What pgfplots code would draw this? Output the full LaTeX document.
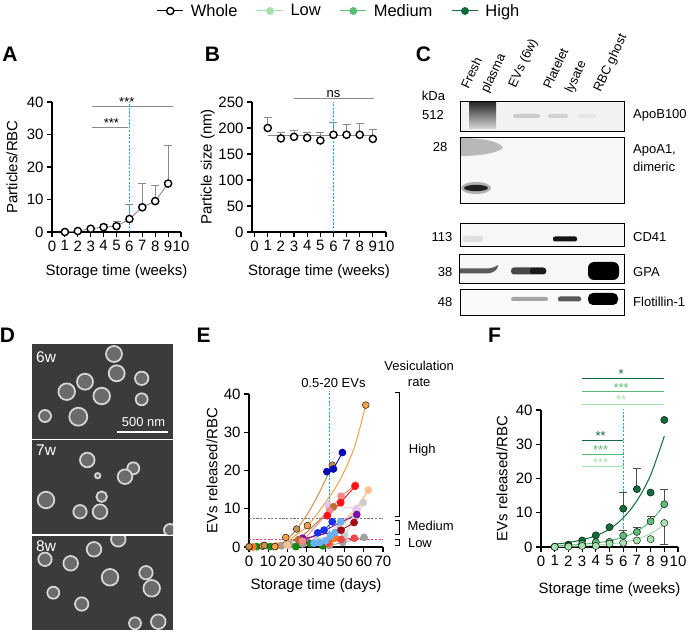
\documentclass[border=0pt]{standalone}
\usepackage{fontspec}
\setmainfont{Liberation Sans}
\usepackage{pgfplots}
\pgfplotsset{compat=1.18}

\definecolor{tealv}{RGB}{20,180,200}
\definecolor{sig}{HTML}{8A8A8A}
\definecolor{lowg}{HTML}{A6E0AE}
\definecolor{medg}{HTML}{5CBB77}
\definecolor{highg}{HTML}{116B3C}
\definecolor{eorange}{HTML}{F5A04A}
\definecolor{etan}{HTML}{C8914E}
\definecolor{edblue}{HTML}{0A0AB5}
\definecolor{eblue}{HTML}{1A2EEE}
\definecolor{ered}{HTML}{FF1010}
\definecolor{esalmon}{HTML}{F08A8A}
\definecolor{ebrown}{HTML}{B8702E}
\definecolor{epurple}{HTML}{7B0FA5}
\definecolor{edred}{HTML}{A30A14}
\definecolor{elblue}{HTML}{6AB0F5}
\definecolor{egray}{HTML}{A0A0A0}
\definecolor{elgray}{HTML}{CDCDCD}
\definecolor{egreen}{HTML}{138A13}
\definecolor{edorange}{HTML}{F47C20}
\definecolor{epeach}{HTML}{F9C290}
\definecolor{elav}{HTML}{E6C6F2}
\definecolor{eredtwo}{HTML}{F04848}
\definecolor{epink}{RGB}{240,60,150}
\definecolor{edash}{RGB}{110,110,140}

\pgfplotsset{
  prism/.style={
    scale only axis, anchor=south west,
    axis lines=left, axis line style={-, line width=1.2pt, black},
    tick align=outside, major tick length=5pt,
    tick style={line width=1.1pt, black},
    tick label style={font=\fontsize{15}{15}\selectfont},
    label style={font=\fontsize{15}{15}\selectfont},
    /pgf/number format/assume math mode=true,
    clip=false,
  },
  es/.style={color=#1, line width=0.9pt, mark=*, mark size=3.4pt, mark options={draw=none, fill=#1}},
  tline/.style={draw=tealv, line width=1.3pt, dash pattern=on 2.2pt off 1.5pt},
}

\begin{document}
\begin{tikzpicture}[x=1pt,y=1pt]
\useasboundingbox (0,0) rectangle (692,632);

% ---------------- legend (canvas axis) ----------------
\begin{axis}[at={(0pt,0pt)}, anchor=south west, scale only axis,
  width=692pt, height=632pt, hide axis,
  xmin=0, xmax=692, ymin=0, ymax=632,
  legend columns=4,
  legend style={draw=none, fill=none, at={(0.49,0.9826)}, anchor=center,
    font=\fontsize{16.5}{18}\selectfont,
    /tikz/every odd column/.append style={column sep=5pt},
    /tikz/every even column/.append style={column sep=17pt}},
  legend image code/.code={\draw[mark repeat=2,mark phase=2] plot coordinates {(0pt,0pt) (13pt,0pt) (26pt,0pt)};}]
\addlegendimage{black, line width=1pt, mark=*, mark size=3.6pt, mark options={draw=black, fill=white, line width=1.4pt}}
\addlegendentry{Whole}
\addlegendimage{lowg, line width=1pt, mark=*, mark size=3.4pt, mark options={draw=none, fill=lowg}}
\addlegendentry{Low}
\addlegendimage{medg, line width=1pt, mark=*, mark size=3.4pt, mark options={draw=none, fill=medg}}
\addlegendentry{Medium}
\addlegendimage{highg, line width=1pt, mark=*, mark size=3.4pt, mark options={draw=none, fill=highg}}
\addlegendentry{High}
\end{axis}

% ---------------- panel letters ----------------
\begin{scope}[every node/.style={font=\fontsize{21}{21}\selectfont\bfseries, inner sep=0pt}]
\node at (10,577.5) {A};
\node at (212.5,577.5) {B};
\node at (423.5,577.5) {C};
\node at (7.5,296.5) {D};
\node at (203.5,296.5) {E};
\node at (494.5,296.5) {F};
\end{scope}

% ---------------- panel A ----------------
\begin{axis}[prism, at={(52pt,400pt)}, width=129pt, height=130pt,
  xmin=0, xmax=10, ymin=0, ymax=40,
  xtick={0,...,10}, ytick={0,10,...,40},
  xlabel={Storage time (weeks)}, ylabel={Particles/RBC},
  ylabel style={at={(axis description cs:-0.31,0.5)}, anchor=center},
  xlabel style={at={(axis description cs:0.5,-0.308)}, anchor=center}]
\addplot[sig, line width=1.2pt] coordinates {(3.1,38.6) (9.36,38.6)};
\addplot[sig, line width=1.2pt] coordinates {(3.1,32.1) (5.93,32.1)};
\node[anchor=south, inner sep=1pt, font=\fontsize{13}{13}\selectfont] at (axis cs:5.8,38.2) {***};
\node[anchor=south, inner sep=1pt, font=\fontsize{13}{13}\selectfont] at (axis cs:4.6,31.7) {***};
\addplot[sig, line width=0.9pt, mark=none,
  error bars/.cd, y dir=plus, y explicit,
  error bar style={sig, line width=0.9pt},
  error mark options={rotate=90, mark size=4pt, sig, line width=0.9pt}]
  coordinates {(1,0.0) +- (0,0) (2,0.3) +- (0,0) (3,1.0) +- (0,0) (4,1.5) +- (0,0.8)
    (5,1.8) +- (0,1.5) (6,4.0) +- (0,4.4) (7,7.6) +- (0,7.3) (8,9.5) +- (0,4.9) (9,14.9) +- (0,11.8)};
\addplot[tline] coordinates {(6,0) (6,40)};
\addplot[only marks, mark=*, mark size=3.6pt, mark options={draw=black, fill=white, line width=1.4pt}]
  coordinates {(1,0.0) (2,0.3) (3,1.0) (4,1.5) (5,1.8) (6,4.0) (7,7.6) (8,9.5) (9,14.9)};
\end{axis}

% ---------------- panel B ----------------
\begin{axis}[prism, at={(252pt,400pt)}, width=134pt, height=130pt,
  xmin=-0.2, xmax=10, ymin=0, ymax=250,
  xtick={0,...,10}, ytick={0,50,...,250},
  xlabel={Storage time (weeks)}, ylabel={Particle size (nm)},
  ylabel style={at={(axis description cs:-0.33,0.5)}, anchor=center},
  xlabel style={at={(axis description cs:0.5,-0.308)}, anchor=center}]
\addplot[sig, line width=1.2pt] coordinates {(3,256) (9.05,256)};
\node[anchor=south, inner sep=1pt, font=\fontsize{13}{13}\selectfont] at (axis cs:6,257) {ns};
\addplot[sig, line width=0.9pt, mark=none, draw=none,
  error bars/.cd, y dir=plus, y explicit,
  error bar style={sig, line width=0.9pt},
  error mark options={rotate=90, mark size=4pt, sig, line width=0.9pt}]
  coordinates {(1,200) +- (0,20) (2,180) +- (0,12) (3,183) +- (0,12) (4,181) +- (0,11)
    (5,176) +- (0,16) (6,187) +- (0,23) (7,187) +- (0,19) (8,187) +- (0,22) (9,179) +- (0,18)};
\addplot[sig, line width=1pt] coordinates {(1,186.5) (9,186.5)};
\addplot[tline] coordinates {(6,0) (6,250)};
\addplot[only marks, mark=*, mark size=3.6pt, mark options={draw=black, fill=white, line width=1.4pt}]
  coordinates {(1,200) (2,180) (3,183) (4,181) (5,176) (6,187) (7,187) (8,187) (9,179)};
\end{axis}

% ---------------- panel C (blots) ----------------
% ApoB100
\fill[black!5] (460,501) rectangle (624,531);
\shade[top color=black!85, bottom color=black!15] (469,503) rectangle (496,530);
\fill[black!20, rounded corners=1.5pt] (513,514) rectangle (540,518);
\fill[black!18, rounded corners=1.5pt] (548,514) rectangle (568,518);
\fill[black!10, rounded corners=1.5pt] (578,514) rectangle (596,518);
\draw[line width=0.9pt] (460,501) rectangle (624,531);
% ApoA1
\fill[black!3] (460,429) rectangle (624,495);
\fill[black!28] (461,494) .. controls (480,494) and (500,491) .. (503,484)
   .. controls (496,478) and (476,476) .. (461,476) -- cycle;
\fill[black!30] (476,444) ellipse (15pt and 6pt);
\fill[black!88] (476,444) ellipse (12pt and 3.2pt);
\draw[line width=0.9pt] (460,429) rectangle (624,495);
% CD41
\fill[black!3] (460.7,386) rectangle (624,409);
\fill[black!12, rounded corners=2pt] (463,390) rectangle (483,396);
\fill[black!92, rounded corners=2pt] (553,390.5) rectangle (577,395.5);
\draw[line width=0.9pt] (460.7,386) rectangle (624,409);
% GPA
\fill[black!3] (459,349) rectangle (624,378);
\fill[black!65] (459,358.5) -- (488,358.5) .. controls (495,359.5) and (498,363) .. (498,367)
   .. controls (494,364) and (490,363.5) .. (485,363.5) -- (459,363.5) -- cycle;
\fill[black!72, rounded corners=3pt] (511,357.5) rectangle (546,364.5);
\fill[black!90, rounded corners=2pt] (530,358) rectangle (546,364);
\fill[black, rounded corners=6pt] (588,352) rectangle (619,370);
\draw[line width=0.9pt] (459,349) rectangle (624,378);
% Flotillin-1
\fill[black!2] (460,317) rectangle (624,343);
\fill[black!35, rounded corners=2pt] (511,331) rectangle (548,335);
\fill[black!65, rounded corners=2pt] (558,330.5) rectangle (581,335.5);
\fill[black, rounded corners=5pt] (588,327) rectangle (618,339);
\draw[line width=0.9pt] (460,317) rectangle (624,343);
% labels
\begin{scope}[every node/.style={font=\fontsize{13}{14}\selectfont, inner sep=0pt}]
\node at (433.5,536) {kDa};
\node at (433,517) {512};
\node at (440,485) {28};
\node at (442,395) {113};
\node at (445,360) {38};
\node at (445,330) {48};
\node[anchor=west] at (633,517) {ApoB100};
\node[anchor=west] at (633,482) {ApoA1,};
\node[anchor=west] at (633,465) {dimeric};
\node[anchor=west] at (633,395) {CD41};
\node[anchor=west] at (633,360) {GPA};
\node[anchor=west] at (633,330) {Flotillin-1};
\end{scope}
\begin{scope}[every node/.style={font=\fontsize{12.8}{14}\selectfont, inner sep=0pt, rotate=65, anchor=base west}]
\node at (468.5,542) {Fresh};
\node at (488,538) {plasma};
\node at (515.5,543.5) {EVs (6w)};
\node at (550.5,542) {Platelet};
\node at (572,538) {lysate};
\node at (600.5,539) {RBC ghost};
\end{scope}

% ---------------- panel D (micrographs) ----------------
\foreach \ya/\yb in {193/288, 98/192, 2/96}{
  \fill[black!77] (32,\ya) rectangle (173,\yb);
}
\begin{scope}
\clip (32,193) rectangle (173,288);
\foreach \cx/\cy/\r in {114/278/8, 116.7/258.7/8, 85/250.3/8, 141.7/253.7/6.7, 66.7/240.3/8.3,
   101.7/236/8.3, 141.7/232.7/6, 45/216/6, 78.3/215.3/9}{
  \filldraw[fill=black!58, draw=white!85!black, line width=1.7pt] (\cx,\cy) circle (\r pt);
}
\end{scope}
\begin{scope}
\clip (32,98) rectangle (173,192);
\foreach \cx/\cy/\r in {87.3/172/7.3, 133.3/163.7/6, 125/155.3/7.3, 46/132/8.3, 101.7/135.3/5.3,
   80/120.3/6.7, 100/120.3/7.3, 170/102/6, 97.7/156.3/2.7}{
  \filldraw[fill=black!58, draw=white!85!black, line width=1.7pt] (\cx,\cy) circle (\r pt);
}
\end{scope}
\begin{scope}
\clip (32,2) rectangle (173,96);
\foreach \cx/\cy/\r in {118.3/92.7/7.3, 94/82.7/7.3, 45/72.7/6.7, 70.7/68.7/7.3, 110/54.7/8.3,
   146/59.3/6.7, 151.7/43.7/8.3, 53.3/39.3/6, 81.7/28/6.7, 135/8.7/6, 158.3/10.3/7.3}{
  \filldraw[fill=black!58, draw=white!85!black, line width=1.7pt] (\cx,\cy) circle (\r pt);
}
\end{scope}
\begin{scope}[every node/.style={text=white, inner sep=0pt}]
\node[anchor=west, font=\fontsize{15.5}{16}\selectfont] at (36,275) {6w};
\node[anchor=west, font=\fontsize{15.5}{16}\selectfont] at (36,182) {7w};
\node[anchor=west, font=\fontsize{15.5}{16}\selectfont] at (36,86) {8w};
\node[font=\fontsize{12.9}{13}\selectfont] at (143.5,209.5) {500 nm};
\end{scope}
\draw[white, line width=1.5pt] (117,200) -- (168,200);

% ---------------- panel E ----------------
\begin{axis}[prism, at={(249pt,85pt)}, width=134pt, height=153pt,
  xmin=0, xmax=70, ymin=0, ymax=40,
  xtick={0,10,...,70}, ytick={0,10,...,40},
  xlabel={Storage time (days)}, ylabel={EVs released/RBC},
  ylabel style={at={(axis description cs:-0.276,0.5)}, anchor=center},
  xlabel style={at={(axis description cs:0.5,-0.255)}, anchor=center}]
\addplot[draw=edash, dash pattern=on 2.2pt off 1.5pt, line width=1.2pt] coordinates {(0,7.5) (70,7.5)};
\addplot[draw=epink, dash pattern=on 2.2pt off 1.5pt, line width=1.2pt] coordinates {(0,2) (70,2)};
% brackets and labels
\addplot[black, line width=1.1pt] coordinates {(76.1,40.3) (78.75,40.3) (78.75,8.05) (76.1,8.05)};
\addplot[black, line width=1.1pt] coordinates {(76.1,7.0) (78.75,7.0) (78.75,3.3) (76.1,3.3)};
\addplot[black, line width=1.1pt] coordinates {(76.1,1.9) (78.75,1.9) (78.75,0.45) (76.1,0.45)};
\begin{scope}[every node/.style={font=\fontsize{13}{13}\selectfont, inner sep=0pt}]
\node at (axis cs:90.5,25.4) {High};
\node at (axis cs:94.9,5.4) {Medium};
\node at (axis cs:89.3,1.05) {Low};
\node at (axis cs:88.9,47.4) {Vesiculation};
\node at (axis cs:88.9,43.1) {rate};
\node at (axis cs:44.1,42.8) {0.5-20 EVs};
\end{scope}
% fit curves
\addplot[eorange, line width=1pt, smooth] coordinates {(18.7,0.9) (25,3.3) (31,5.7) (39.7,11.5) (47.5,17.5) (55,26) (61,37.1)};
\addplot[etan, line width=1pt, smooth] coordinates {(17,0.5) (25,4.7) (31,9) (37,14.5) (43.5,21.4)};
\addplot[epeach, line width=1pt, smooth] coordinates {(45,5) (52,8) (57,11) (62.3,14.9)};
\addplot[tline] coordinates {(42,0) (42,40.7)};
% donors
\addplot[es=elgray] coordinates {(23,0.4) (35,1.8) (50,3.0) (56,8.0) (59.7,11.6)};
\addplot[es=egray] coordinates {(17,0.3) (21,0.6) (28,0.8) (42,0.4) (49,1.2) (60.1,2.5)};
\addplot[es=epeach] coordinates {(20,0.5) (44,3) (56.3,9.7) (62.3,14.9)};
\addplot[es=elav] coordinates {(41.4,11.0) (56,10)};
\addplot[es=egreen] coordinates {(4,0.1) (11,0.1) (24.5,0.1) (32,0.9) (38.5,0.3)};
\addplot[es=edorange] coordinates {(0,0) (2,0) (14,0.2) (42,1.0) (45,2.3)};
\addplot[es=eredtwo] coordinates {(41,1.0) (48.1,2.0) (55,2.3)};
\addplot[es=elblue] coordinates {(34,1.0) (37,1.2) (40,1.6) (42.5,2.9) (45,3.8) (47.9,6.6)};
\addplot[es=edred] coordinates {(26,1.9) (48.1,4.4) (54.9,6.4)};
\addplot[es=epurple] coordinates {(28,2.3) (28.5,1.6) (56.3,8.5)};
\addplot[es=ebrown] coordinates {(8,0.4) (26,1.9) (44.1,10.5)};
\addplot[es=eblue] coordinates {(35.9,3.7) (39.2,4.4) (43.5,6.6)};
\addplot[es=esalmon] coordinates {(28,1.5) (42,9.5) (48.1,13.3) (55.6,16.2)};
\addplot[es=ered] coordinates {(40.9,8.2) (47.9,11.6) (55.4,15.9)};
\addplot[only marks, mark=*, mark size=3.4pt, mark options={draw=none, fill=eorange}] coordinates {(0,0) (7,0.2) (13.5,0.1) (19.2,2.5) (30.5,5.6) (61,37.1)};
\addplot[only marks, mark=*, mark size=3.4pt, mark options={draw=none, fill=etan}] coordinates {(0,0.1) (8,0.4) (24.9,4.7) (43.5,21.4)};
\addplot[es=edblue] coordinates {(40.7,19.7) (44.1,20.4) (48.8,24.7)};
\end{axis}

% ---------------- panel F ----------------
\begin{axis}[prism, at={(541pt,85pt)}, width=137pt, height=137pt,
  xmin=0, xmax=10, ymin=0, ymax=40,
  xtick={0,...,10}, ytick={0,10,...,40},
  xlabel={Storage time (weeks)}, ylabel={EVs released/RBC},
  ylabel style={at={(axis description cs:-0.285,0.5)}, anchor=center},
  xlabel style={at={(axis description cs:0.5,-0.314)}, anchor=center}]
\addplot[tline] coordinates {(6,0) (6,40.3)};
% significance
\addplot[highg, line width=1pt] coordinates {(3,49.2) (8.95,49.2)};
\addplot[medg, line width=1pt] coordinates {(3,45.3) (8.95,45.3)};
\addplot[lowg, line width=1pt] coordinates {(3,41.6) (8.95,41.6)};
\addplot[highg, line width=1pt] coordinates {(3,31.0) (6,31.0)};
\addplot[medg, line width=1pt] coordinates {(3,27.1) (6,27.1)};
\addplot[lowg, line width=1pt] coordinates {(3,23.4) (6,23.4)};
\begin{scope}[every node/.style={font=\fontsize{13}{13}\selectfont, inner sep=1pt, anchor=south}]
\node[text=highg] at (axis cs:5.85,48.8) {*};
\node[text=medg] at (axis cs:5.85,44.9) {***};
\node[text=lowg] at (axis cs:5.85,41.2) {**};
\node[text=highg] at (axis cs:4.35,30.6) {**};
\node[text=medg] at (axis cs:4.35,26.7) {***};
\node[text=lowg] at (axis cs:4.35,23.0) {***};
\end{scope}
% fits
\addplot[highg, line width=1pt, smooth] coordinates {(1,0.8) (2,1.3) (3,2.1) (4,3.3) (5,5.2) (6,8.5) (7,13.5) (8,21) (9,32.4)};
\addplot[medg, line width=1pt, smooth] coordinates {(1,0.3) (2,0.5) (3,0.8) (4,1.2) (5,1.8) (6,2.9) (7,4.6) (8,7.5) (9,12.3)};
\addplot[lowg, line width=1pt, smooth] coordinates {(1,0.1) (2,0.2) (3,0.35) (4,0.55) (5,0.9) (6,1.4) (7,2.3) (8,3.9) (9,6.5)};
% error bars
\addplot[draw=none, mark=none,
  error bars/.cd, y dir=plus, y explicit,
  error bar style={draw=black!70, line width=0.9pt},
  error mark options={rotate=90, mark size=4pt, draw=black!70, line width=0.9pt}]
  coordinates {(6,11.2) +- (0,4.8) (7,16.9) +- (0,6.1) (6,3.3) +- (0,1.5) (7,4.4) +- (0,1.4) (8,7.5) +- (0,1.5) (9,12.5) +- (0,4.4)};
\addplot[draw=none, mark=none,
  error bars/.cd, y dir=minus, y explicit,
  error bar style={draw=black!70, line width=0.9pt},
  error mark options={rotate=90, mark size=4pt, draw=black!70, line width=0.9pt}]
  coordinates {(9,7.0) +- (0,6.3)};
% points
\addplot[only marks, mark=*, mark size=3.6pt, mark options={draw=none, fill=highg}]
  coordinates {(1,0.1) (2,0.7) (3,1.9) (4,3.4) (5,5.8) (6,11.2) (7,16.9) (8,15.9) (9,37.1)};
\addplot[only marks, mark=*, mark size=3.6pt, mark options={draw=none, fill=medg}]
  coordinates {(1,0) (2,0.3) (3,0.9) (4,1.4) (5,1.5) (6,3.3) (7,4.4) (8,7.5) (9,12.5)};
\addplot[only marks, mark=*, mark size=3.6pt, mark options={draw=none, fill=lowg}]
  coordinates {(1,0) (2,0.1) (3,0.3) (4,0.3) (5,1.0) (6,1.2) (7,1.9) (8,2.3) (9,7.0)};
\end{axis}

\end{tikzpicture}
\end{document}
